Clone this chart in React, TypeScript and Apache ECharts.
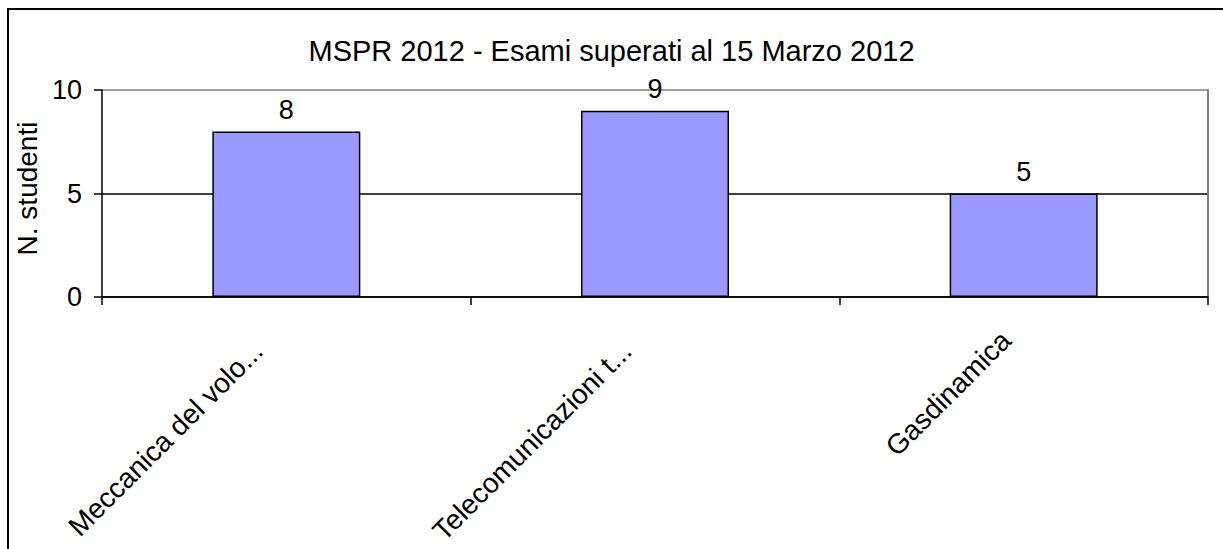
import React, { useEffect, useRef } from "react";
import * as echarts from "echarts";

const titleText = "MSPR 2012 - Esami superati al 15 Marzo 2012";
const categories = ["Meccanica del volo...", "Telecomunicazioni t...", "Gasdinamica"];
const values = [8, 9, 5];
const yAxisName = "N. studenti";

const FONT = "'Liberation Sans', Arial, sans-serif";

export default function App() {
  const ref = useRef<HTMLDivElement>(null);
  useEffect(() => {
    if (!ref.current) return;
    const chart = echarts.init(ref.current, null, { renderer: "svg" });
    const labelRich = {
      fontSize: 28,
      color: "#000",
      fontFamily: FONT,
    };
    chart.setOption({
      animation: false,
      backgroundColor: "#ffffff",
      textStyle: { fontFamily: FONT },
      title: {
        text: titleText,
        left: "center",
        top: 31,
        textStyle: { fontFamily: FONT, fontSize: 29, fontWeight: "normal", color: "#000" },
      },
      graphic: [
        {
          type: "rect",
          shape: { x: 8, y: 9, width: 1400, height: 800 },
          style: { fill: "none", stroke: "#000", lineWidth: 2 },
          silent: true,
        },
      ],
      grid: { left: 102, top: 90, right: 15, bottom: 252 },
      xAxis: {
        type: "category",
        data: categories,
        boundaryGap: true,
        axisLine: { show: true, lineStyle: { color: "#000", width: 1.5 } },
        axisTick: { show: true, length: 8, lineStyle: { color: "#000", width: 1.5 } },
        axisLabel: {
          rotate: 45,
          interval: 0,
          margin: 21,
          fontSize: 28,
          color: "#000",
          fontFamily: FONT,
          formatter: (value: string, index: number) =>
            index === categories.length - 1 ? `{s|${value}}` : `{l|${value}}`,
          rich: {
            l: { ...labelRich, padding: [0, 40, 0, 0] },
            s: { ...labelRich, padding: [0, 25, 0, 0] },
          },
        },
        splitLine: { show: false },
      },
      yAxis: [
        {
          type: "value",
          min: 0,
          max: 10,
          interval: 5,
          name: yAxisName,
          nameLocation: "middle",
          nameRotate: 90,
          nameGap: 60,
          nameTextStyle: { fontSize: 28, color: "#000", fontFamily: FONT, padding: [0, 0, 0, 10] },
          axisLine: { show: true, lineStyle: { color: "#000", width: 1.5 } },
          axisTick: { show: true, length: 8, lineStyle: { color: "#000", width: 1.5 } },
          axisLabel: { margin: 20, fontSize: 27, color: "#000", fontFamily: FONT },
          splitLine: { show: true, lineStyle: { color: ["#000", "#000", "#808080"], width: 1.5 } },
        },
        {
          type: "value",
          min: 0,
          max: 10,
          interval: 5,
          position: "right",
          axisLine: { show: true, lineStyle: { color: "#808080", width: 2 } },
          axisTick: { show: false },
          axisLabel: { show: false },
          splitLine: { show: false },
        },
      ],
      series: [
        {
          type: "bar",
          data: values,
          yAxisIndex: 0,
          barWidth: 148,
          itemStyle: { color: "#9999FF", borderColor: "#000", borderWidth: 1.5 },
          label: {
            show: true,
            position: "top",
            distance: 8,
            fontSize: 27,
            color: "#000",
            fontFamily: FONT,
          },
        },
      ],
    });
    return () => chart.dispose();
  }, []);
  return (
    <div
      ref={ref}
      style={{ position: "fixed", left: 0, top: 0, width: 1223, height: 549 }}
    />
  );
}
